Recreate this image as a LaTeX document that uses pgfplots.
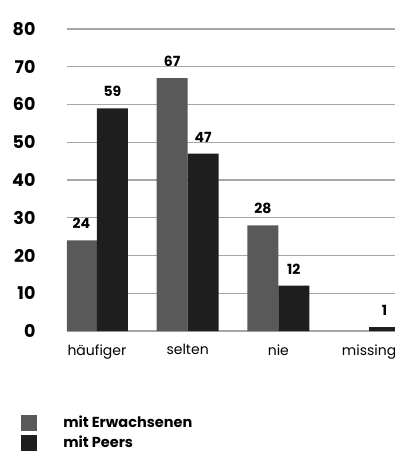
\documentclass[border=0pt]{standalone}
\usepackage{fontspec}
\setmainfont{Poppins}
\usepackage{pgfplots}
\pgfplotsset{compat=1.18}
\definecolor{cgrey}{HTML}{595959}
\definecolor{cblack}{HTML}{1E1E1E}
\definecolor{cgrid}{HTML}{A6A6A6}
\begin{document}
\begin{tikzpicture}
\begin{axis}[
  scale only axis,
  width=328pt, height=302pt,
  ymin=0, ymax=80,
  xmin=-0.33, xmax=3.286,
  ybar=0pt, bar width=31pt,
  axis line style={draw=none},
  ymajorgrids, grid style={cgrid, line width=1.2pt},
  ytick={0,10,...,80},
  xtick={0,1,2,3},
  xticklabels={häufiger,selten,nie,missing},
  major tick length=0pt,
  /pgf/number format/assume math mode=true,
  yticklabel style={font=\fontsize{17.5}{20}\selectfont\bfseries, anchor=east, xshift=-28pt},
  xticklabel style={font=\fontsize{14}{16}\selectfont, yshift=-10pt},
  nodes near coords,
  every node near coord/.append style={font=\fontsize{14}{16}\selectfont\bfseries, yshift=8pt, color=black},
  legend style={draw=none, at={(-0.14,-0.275)}, anchor=north west, inner sep=0pt,
    font=\fontsize{14.5}{16}\selectfont\bfseries, row sep=3pt,
    /tikz/every odd column/.append style={column sep=24pt}},
  legend cell align=left,
  legend image code/.code={\fill[#1] (0pt,-8pt) rectangle (16pt,8pt);},
  clip=true,
]
\addplot[fill=cgrey, draw=none] coordinates {(0,24) (1,67) (2,28)};
\addplot[fill=cblack, draw=none] coordinates {(0,59) (1,47) (2,12) (3,1)};
\legend{mit Erwachsenen, mit Peers}
\end{axis}
\pgfresetboundingbox
\path[use as bounding box] (-67pt,-122pt) rectangle (328pt,331pt);
\end{tikzpicture}
\end{document}
